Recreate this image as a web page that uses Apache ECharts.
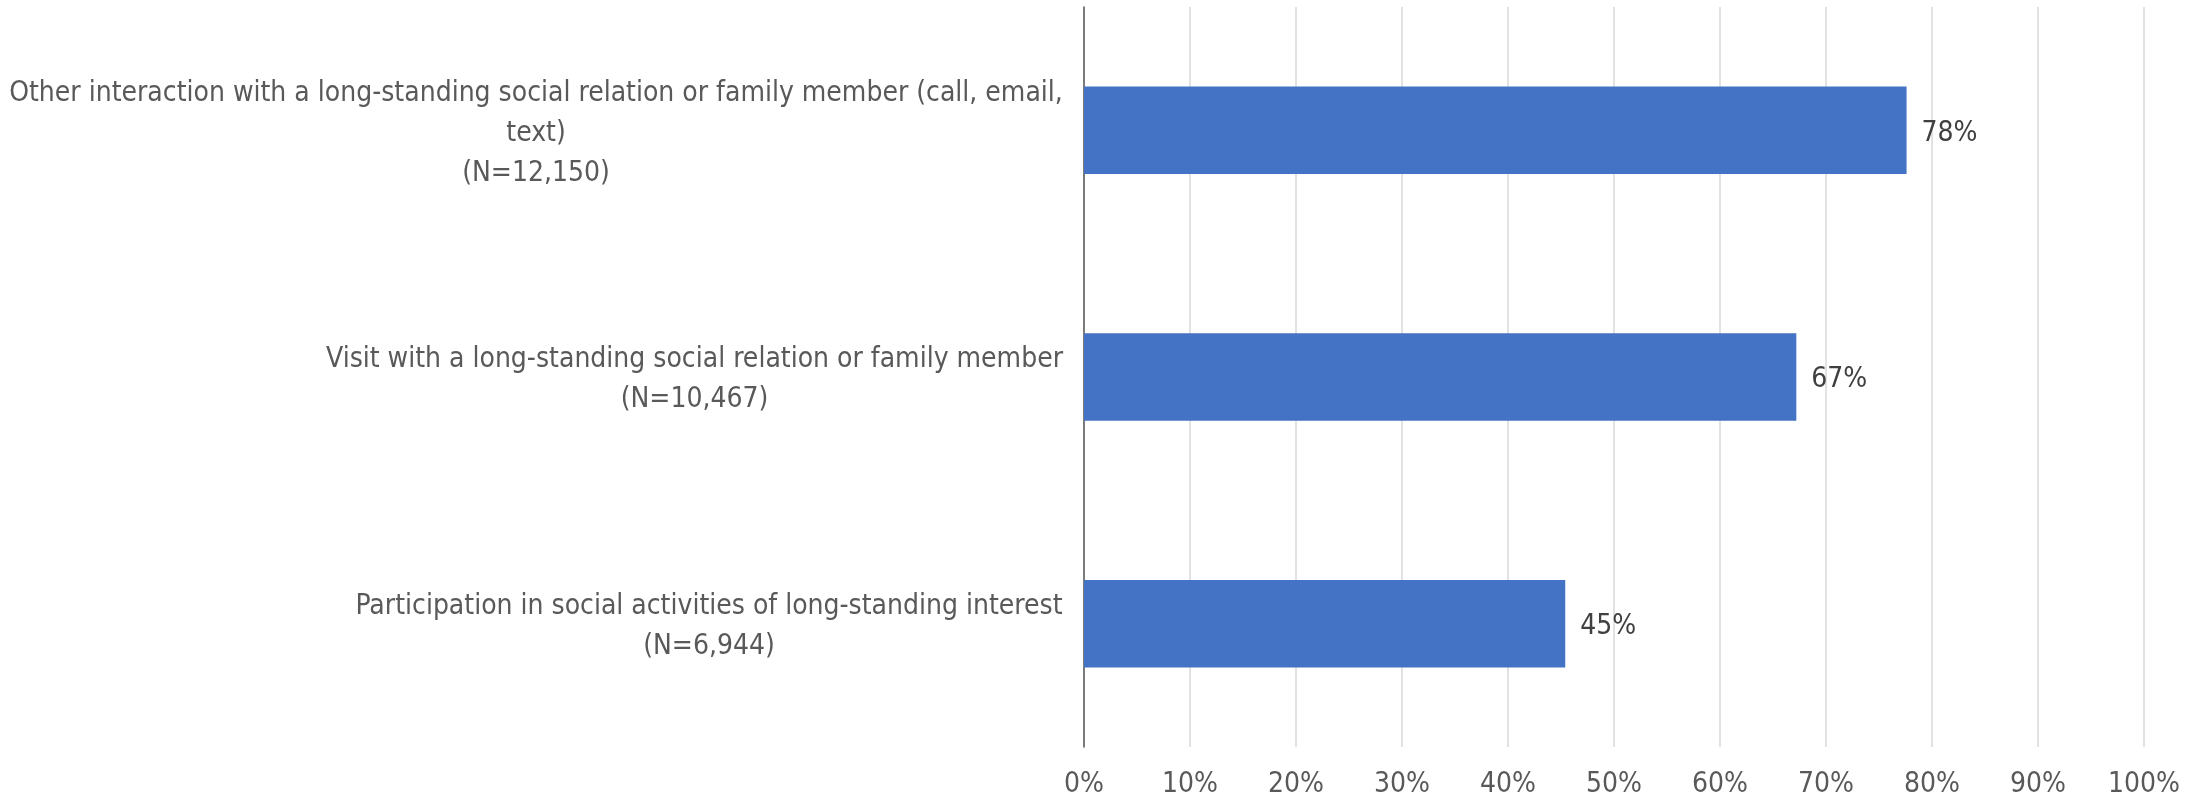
<!DOCTYPE html>
<html>
<head>
<meta charset="UTF-8">
<title>Social contact chart</title>
<style type="text/css">
   html,body{
      margin:0;
      padding:0;
      background-color:#ffffff;
   }
   #container{
      width:2203px;
      height:802px;
   }
</style>
</head>
<body>
<div id="container"></div>
<script src="https://cdn.jsdelivr.net/npm/echarts@6/dist/echarts.min.js"></script>
<script type="text/javascript">
var categories = [
    'Other interaction with a long-standing social relation or family member (call, email,\ntext)',
    'Visit with a long-standing social relation or family member',
    'Participation in social activities of long-standing interest'
];
var sampleSizes = ['12,150', '10,467', '6,944'];
var values = [77.6, 67.2, 45.4];
var tickLabels = ['0%', '10%', '20%', '30%', '40%', '50%', '60%', '70%', '80%', '90%', '100%'];

var fontName = '"Liberation Sans Narrow", "DejaVu Sans Condensed", sans-serif';
var fontSize = 28;

// each label block is centred on its own longest line, then right aligned to the axis
var ctx = document.createElement('canvas').getContext('2d');
ctx.font = fontSize + 'px ' + fontName;
var rich = {};
var labelLines = [];
for (var i = 0; i < categories.length; i++) {
    var lines = categories[i].split('\n');
    lines.push('(N=' + sampleSizes[i] + ')');
    labelLines[i] = lines;
    var w = 0;
    for (var j = 0; j < lines.length; j++) {
        w = Math.max(w, ctx.measureText(lines[j]).width);
    }
    rich['c' + i] = {
        width: Math.ceil(w) + 2,
        align: 'center',
        fontSize: fontSize,
        fontFamily: fontName,
        lineHeight: 40,
        color: '#595959'
    };
}

var dom = document.getElementById('container');
var myChart = echarts.init(dom);
var option = {
    animation: false,
    grid: {
        left: 1084,
        right: 59,
        top: 7,
        bottom: 55
    },
    xAxis: {
        type: 'value',
        min: 0,
        max: 100,
        interval: 10,
        axisLine: { show: false },
        axisTick: { show: false },
        splitLine: {
            lineStyle: { color: '#D9D9D9', width: 1.5 }
        },
        axisLabel: {
            margin: 24,
            fontSize: fontSize,
            fontFamily: fontName,
            color: '#595959',
            formatter: function (v) {
                return tickLabels[Math.round(v / 10)];
            }
        }
    },
    yAxis: {
        type: 'category',
        inverse: true,
        data: categories,
        axisTick: { show: false },
        axisLine: {
            lineStyle: { color: '#595959', width: 1.5 }
        },
        axisLabel: {
            margin: 20,
            padding: [6, 0, 0, 0],
            formatter: function (v, idx) {
                return labelLines[idx].map(function (l) {
                    return '{c' + idx + '|' + l + '}';
                }).join('\n');
            },
            rich: rich
        }
    },
    series: [
        {
            type: 'bar',
            data: values,
            barWidth: '35.5%',
            itemStyle: { color: '#4472C4' },
            label: {
                show: true,
                position: 'right',
                distance: 15,
                offset: [0, 3],
                fontSize: fontSize,
                fontFamily: fontName,
                color: '#404040',
                formatter: function (p) {
                    return Math.round(p.value) + '%';
                }
            }
        }
    ]
};
myChart.setOption(option, true);
</script>
</body>
</html>
